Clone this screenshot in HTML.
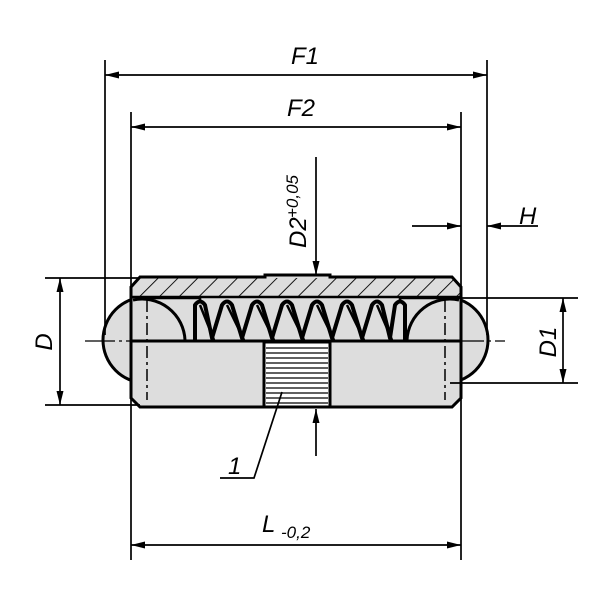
<!DOCTYPE html>
<html><head><style>body{margin:0;background:#fff}svg{display:block}</style></head><body>
<svg width="600" height="600" viewBox="0 0 600 600" xmlns="http://www.w3.org/2000/svg" font-family="Liberation Sans, sans-serif" font-style="italic">
<defs>
<pattern id="h" width="14" height="14" patternUnits="userSpaceOnUse" patternTransform="rotate(45)"><line x1="0" y1="0" x2="0" y2="14" stroke="#000" stroke-width="1.8"/></pattern>
<marker id="b" viewBox="0 0 16 8" refX="16" refY="4" markerWidth="16" markerHeight="7" markerUnits="userSpaceOnUse" orient="auto-start-reverse"><path d="M0,0 L16,4 L0,8z" fill="#000"/></marker>
</defs>
<circle cx="146" cy="340" r="43" fill="#ddd" stroke="#000" stroke-width="3"/>
<circle cx="445" cy="340" r="43" fill="#ddd" stroke="#000" stroke-width="3"/>
<path d="M140,277 L265,277 L265,275 L330,275 L330,277 L452,277 L461,287 L461,398 L452,407 L140,407 L131,398 L131,287 Z" fill="#ddd" stroke="#000" stroke-width="3"/>
<path d="M140,278 L452,278 L460,288 L460,297 L131,297 L131,288 Z" fill="url(#h)"/>
<line x1="131" y1="297" x2="461" y2="297" stroke="#000" stroke-width="2.5"/>
<path d="M145,298 L200,298 L200,302 M400,302 L400,298 L455,298" fill="none" stroke="#000" stroke-width="2.5"/>
<path d="M133,300 A43,43 0 0,1 185,340" fill="none" stroke="#000" stroke-width="3"/>
<path d="M459,300 A43,43 0 0,0 407,340" fill="none" stroke="#000" stroke-width="3"/>
<line x1="131" y1="290" x2="131" y2="398" stroke="#000" stroke-width="3"/>
<line x1="461" y1="290" x2="461" y2="398" stroke="#000" stroke-width="3"/>
<path d="M195,340 L195,305 Q200,298 205,305 L212,338 L222,305 Q227,298 232,305 L242,338 L252,305 Q257,298 262,305 L272,338 L282,305 Q287,298 292,305 L302,338 L312,305 Q317,298 322,305 L332,338 L342,305 Q347,298 352,305 L362,338 L372,305 Q377,298 382,305 L390,338 L395,305 Q400,298 405,305 L405,340" fill="none" stroke="#000" stroke-width="4" stroke-linejoin="round"/>
<path d="M200,305 L214,340 M227,305 L244,340 M257,305 L274,340 M287,305 L304,340 M317,305 L334,340 M347,305 L364,340 M377,305 L392,340" fill="none" stroke="#000" stroke-width="2.5"/>
<rect x="264" y="342" width="66" height="65" fill="#fff" stroke="#000" stroke-width="3"/>
<g stroke="#000" stroke-width="1.2">
<line x1="266" y1="348" x2="328" y2="348"/><line x1="266" y1="353" x2="328" y2="353"/><line x1="266" y1="358" x2="328" y2="358"/><line x1="266" y1="363" x2="328" y2="363"/><line x1="266" y1="368" x2="328" y2="368"/><line x1="266" y1="373" x2="328" y2="373"/><line x1="266" y1="378" x2="328" y2="378"/><line x1="266" y1="383" x2="328" y2="383"/><line x1="266" y1="388" x2="328" y2="388"/><line x1="266" y1="393" x2="328" y2="393"/><line x1="266" y1="398" x2="328" y2="398"/><line x1="266" y1="403" x2="328" y2="403"/>
</g>
<line x1="131" y1="341" x2="461" y2="341" stroke="#000" stroke-width="3"/>
<line x1="85" y1="341" x2="505" y2="341" stroke="#000" stroke-width="1.2" stroke-dasharray="30,4,3,4"/>
<line x1="147" y1="300" x2="147" y2="400" stroke="#000" stroke-width="1.5" stroke-dasharray="12,4,3,4"/>
<line x1="445" y1="300" x2="445" y2="400" stroke="#000" stroke-width="1.5" stroke-dasharray="12,4,3,4"/>
<g stroke="#000" stroke-width="1.7" fill="none">
<line x1="105" y1="60" x2="105" y2="335"/><line x1="487" y1="60" x2="487" y2="335"/>
<line x1="131" y1="112" x2="131" y2="560"/><line x1="461" y1="112" x2="461" y2="560"/>
<line x1="105" y1="75" x2="487" y2="75" marker-start="url(#b)" marker-end="url(#b)"/>
<line x1="131" y1="127" x2="461" y2="127" marker-start="url(#b)" marker-end="url(#b)"/>
<line x1="131" y1="545" x2="461" y2="545" marker-start="url(#b)" marker-end="url(#b)"/>
<line x1="45" y1="278" x2="140" y2="278"/><line x1="45" y1="405" x2="140" y2="405"/>
<line x1="60" y1="278" x2="60" y2="405" marker-start="url(#b)" marker-end="url(#b)"/>
<line x1="450" y1="298" x2="578" y2="298"/><line x1="450" y1="383" x2="578" y2="383"/>
<line x1="563" y1="298" x2="563" y2="383" marker-start="url(#b)" marker-end="url(#b)"/>
<line x1="412" y1="226" x2="461" y2="226" marker-end="url(#b)"/>
<line x1="538" y1="226" x2="487" y2="226" marker-end="url(#b)"/>
<line x1="316" y1="157" x2="316" y2="275" marker-end="url(#b)"/>
<line x1="316" y1="456" x2="316" y2="409" marker-end="url(#b)"/>
<polyline points="220,478 254,478 282,392"/>
</g>
<g font-size="24" fill="#000">
<text x="291" y="64">F1</text>
<text x="287" y="116">F2</text>
<text x="519" y="224">H</text>
<text x="228" y="474">1</text>
<text x="262" y="532">L</text>
<text x="281" y="538" font-size="17">-0,2</text>
<text transform="translate(52,342) rotate(-90)" text-anchor="middle">D</text>
<text transform="translate(556,342) rotate(-90)" text-anchor="middle">D1</text>
<text transform="translate(306,248) rotate(-90)">D2</text>
<text transform="translate(298,218) rotate(-90)" font-size="17">+0,05</text>
</g>
</svg>
</body></html>
